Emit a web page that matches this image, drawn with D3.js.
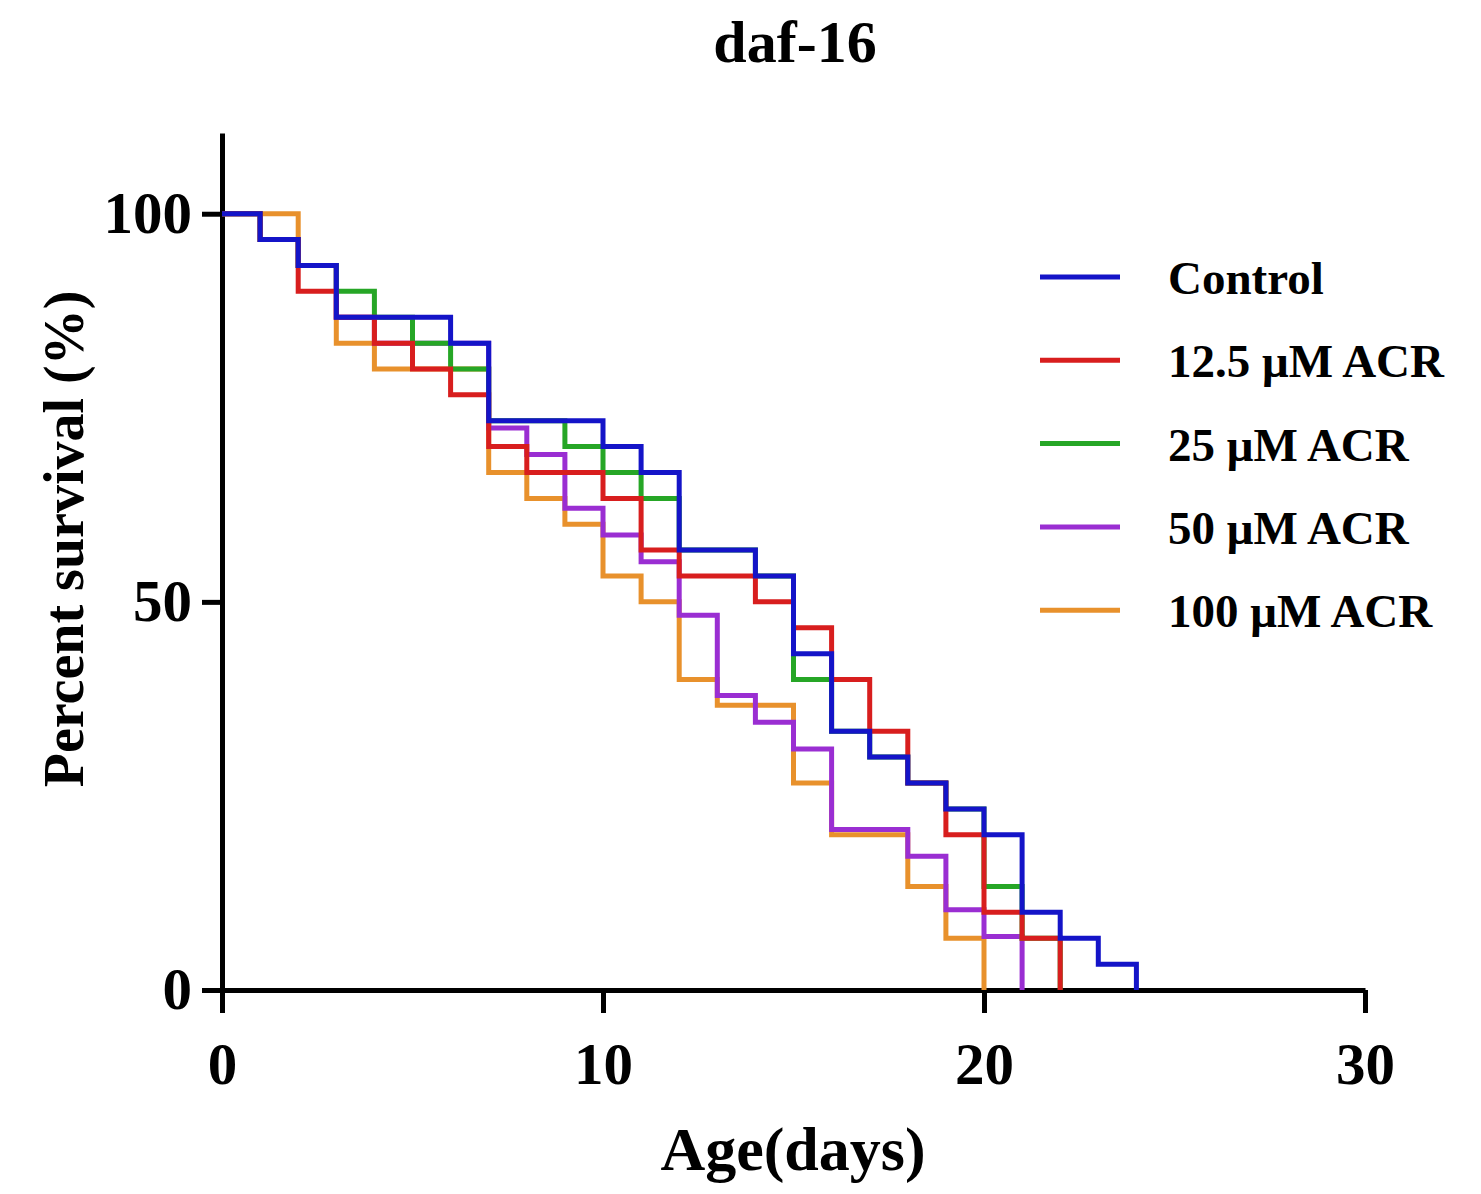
<!DOCTYPE html>
<html>
<head>
<meta charset="utf-8">
<script src="https://cdn.jsdelivr.net/npm/d3@7"></script>
<style>
  body { margin: 0; background: #fff; }
  svg text { font-family: 'Liberation Serif', 'Times New Roman', serif; font-weight: bold; fill: #000; }
</style>
</head>
<body>
<svg id="chart" width="1481" height="1194"></svg>
<script>
// Kaplan-Meier step data: day at which survival changes, and survival (%) after it
const seriesNames = ['Control', '12.5 μM ACR', '25 μM ACR', '50 μM ACR', '100 μM ACR'];
const seriesColors = ['#1414c8', '#d81e1e', '#26a626', '#9a2ed2', '#e8912c'];

const controlDays = [0, 1, 2, 3, 6, 7, 10, 11, 12, 14, 15, 16, 17, 18, 19, 20, 21, 22, 23, 24];
const controlSurv = [100, 96.67, 93.33, 86.67, 83.33, 73.33, 70, 66.67, 56.67, 53.33, 43.33, 33.33, 30, 26.67, 23.33, 20, 10, 6.67, 3.33, 0];

const acr125Days = [0, 1, 2, 3, 4, 5, 6, 7, 8, 10, 11, 12, 14, 15, 16, 17, 18, 19, 20, 21, 22];
const acr125Surv = [100, 96.67, 90, 86.67, 83.33, 80, 76.67, 70, 66.67, 63.33, 56.67, 53.33, 50, 46.67, 40, 33.33, 26.67, 20, 10, 6.67, 0];

const acr25Days = [0, 1, 2, 3, 4, 5, 6, 7, 9, 10, 11, 12, 14, 15, 16, 17, 18, 19, 20, 21, 22];
const acr25Surv = [100, 96.67, 93.33, 90, 86.67, 83.33, 80, 73.33, 70, 66.67, 63.33, 56.67, 53.33, 40, 33.33, 30, 26.67, 23.33, 13.33, 6.67, 0];

const acr50Days = [0, 1, 2, 3, 4, 7, 8, 9, 10, 11, 12, 13, 14, 15, 16, 18, 19, 20, 21];
const acr50Surv = [100, 96.67, 93.33, 86.67, 83.33, 72.41, 68.97, 62.07, 58.62, 55.17, 48.28, 37.93, 34.48, 31.03, 20.69, 17.24, 10.34, 6.9, 0];

const acr100Days = [0, 2, 3, 4, 7, 8, 9, 10, 11, 12, 13, 15, 16, 18, 19, 20];
const acr100Surv = [100, 93.33, 83.33, 80, 66.67, 63.33, 60, 53.33, 50, 40, 36.67, 26.67, 20, 13.33, 6.67, 0];

const xTicks = [0, 10, 20, 30];
const yTicks = [0, 50, 100];

const allDays = [controlDays, acr125Days, acr25Days, acr50Days, acr100Days];
const allSurv = [controlSurv, acr125Surv, acr25Surv, acr50Surv, acr100Surv];

const svg = d3.select('#chart');

const x = d3.scaleLinear().domain([0, 30]).range([222, 1365]);
const y = d3.scaleLinear().domain([0, 110.4]).range([990, 133]);

// Axes
const yAxis = d3.axisLeft(y).tickValues(yTicks).tickSize(20).tickSizeOuter(0).tickPadding(10);
const xAxis = d3.axisBottom(x).tickValues(xTicks).tickSize(23).tickSizeOuter(0).tickPadding(29);

const gy = svg.append('g').attr('transform', 'translate(222,0)').call(yAxis);
const gx = svg.append('g').attr('transform', 'translate(0,990)').call(xAxis);

[gx, gy].forEach(g => {
  g.selectAll('path, line').attr('stroke', '#000').attr('stroke-width', 5);
  g.selectAll('text')
    .style('font-size', '59px')
    .style('font-family', "'Liberation Serif', serif")
    .style('font-weight', 'bold')
    .attr('fill', '#000');
});

// Curves, drawn back to front
const line = d3.line()
  .x(d => x(d[0]))
  .y(d => y(d[1]))
  .curve(d3.curveStepAfter);

const drawOrder = [4, 3, 2, 1, 0];
drawOrder.forEach(i => {
  const pts = d3.zip(allDays[i], allSurv[i]);
  svg.append('path')
    .datum(pts)
    .attr('fill', 'none')
    .attr('stroke', seriesColors[i])
    .attr('stroke-width', 5)
    .attr('stroke-linejoin', 'miter')
    .attr('d', line);
});

// Titles
svg.append('text')
  .attr('x', 795).attr('y', 62)
  .attr('text-anchor', 'middle')
  .style('font-size', '60px')
  .text('daf-16');

svg.append('text')
  .attr('x', 793).attr('y', 1170)
  .attr('text-anchor', 'middle')
  .style('font-size', '62px')
  .text('Age(days)');

svg.append('text')
  .attr('transform', 'translate(83,539) rotate(-90)')
  .attr('text-anchor', 'middle')
  .style('font-size', '56px')
  .text('Percent survival (%)');

// Legend
const legend = svg.append('g').attr('transform', 'translate(1040,277)');
seriesNames.forEach((name, i) => {
  const row = legend.append('g').attr('transform', `translate(0,${i * 83.3})`);
  row.append('line')
    .attr('x1', 0).attr('x2', 80)
    .attr('y1', 0).attr('y2', 0)
    .attr('stroke', seriesColors[i])
    .attr('stroke-width', 5);
  row.append('text')
    .attr('x', 128).attr('y', 17)
    .style('font-size', '47px')
    .text(name);
});
</script>
</body>
</html>
